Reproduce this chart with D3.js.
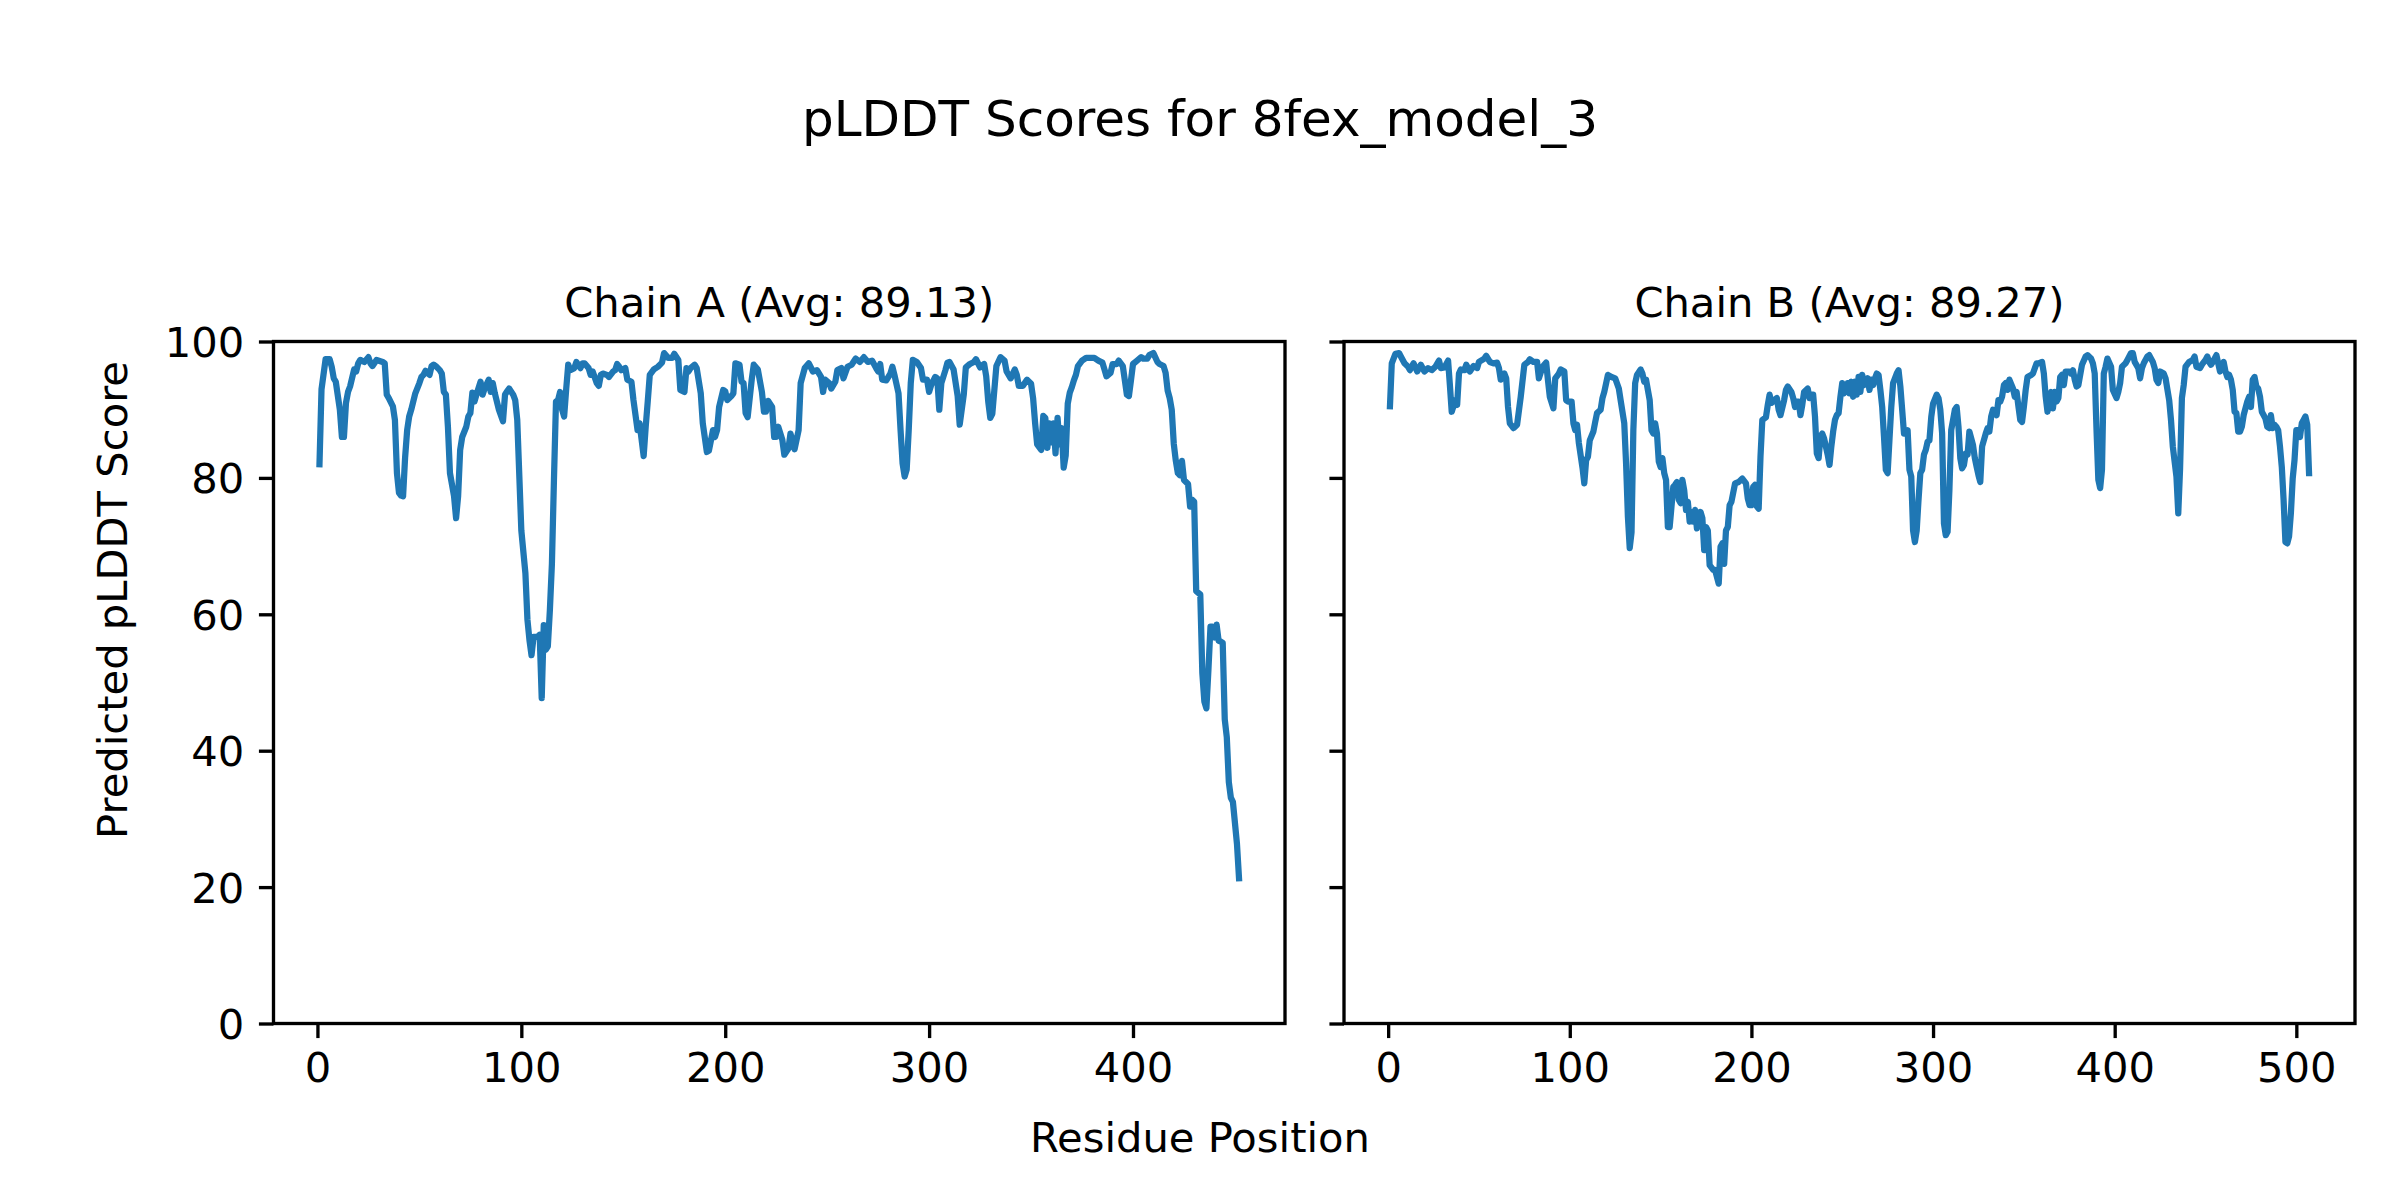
<!DOCTYPE html>
<html>
<head>
<meta charset="utf-8">
<script src="https://cdn.jsdelivr.net/npm/d3@7"></script>
<style>
  html, body { margin: 0; padding: 0; background: #ffffff; }
  svg { display: block; }
  text { font-family: "DejaVu Sans", sans-serif; fill: #000; }
</style>
</head>
<body>
<div id="chart"></div>
<script>
// ---------------- DATA ----------------
const figureTitle = "pLDDT Scores for 8fex_model_3";
const xLabel = "Residue Position";
const yLabel = "Predicted pLDDT Score";
const chainTitles = ["Chain A (Avg: 89.13)", "Chain B (Avg: 89.27)"];
const xTicksA = [0, 100, 200, 300, 400];
const xTicksB = [0, 100, 200, 300, 400, 500];
const yTicks = [0, 20, 40, 60, 80, 100];

const chainAPos = [1,2,4,6,7,8,9,11,12,13,14,15,16,18,19,20,21,23,25,26,27,29,32,33,34,35,37,38,39,40,41,42,43,44,45,46,48,50,51,52,53,55,56,57,58,60,61,62,63,64,65,67,68,69,70,71,73,74,75,76,77,78,80,81,82,84,85,86,87,89,91,92,93,94,96,97,98,100,102,103,104,105,106,108,109,110,111,112,113,114,115,116,117,118,119,120,121,122,123,124,126,127,129,130,131,133,134,135,137,138,139,140,142,143,145,146,147,
148,149,151,152,154,155,157,158,160,161,162,163,165,167,169,170,172,174,175,177,178,180,181,182,183,185,186,188,189,191,192,194,195,196,197,199,200,201,203,204,205,207,208,209,210,211,213,214,216,218,219,220,221,223,224,225,226,228,229,231,232,234,236,237,239,241,243,245,247,248,249,251,252,254,255,257,258,260,262,264,266,268,270,272,274,275,276,277,279,281,282,283,285,286,287,288,289,290,291,292,294,296,297,299,300,301,303,304,305,306,308,309,
310,312,314,315,317,318,320,322,323,325,327,328,329,330,331,333,335,337,338,340,342,343,344,346,348,350,351,352,353,355,356,357,358,359,360,361,362,363,364,365,366,367,368,369,370,371,372,373,375,377,379,381,383,385,386,387,389,390,392,393,395,396,397,398,399,400,402,404,405,407,408,410,412,413,415,416,417,418,419,420,421,422,423,424,425,426,427,428,429,430,431,433,434,435,436,437,438,439,440,441,442,443,444,445,446,447,448,449,451,452];
const chainAScore = [82,93,97.4,97.4,96.3,94.6,94.1,90,86,86,91,92.6,93.4,95.9,95.6,96.8,97.3,97,97.7,96.8,96.4,97.3,97,96.8,92.2,91.7,90.5,88.5,80.7,77.8,77.4,77.3,83,87,89,90,92.4,93.9,94.8,95.1,95.7,95.1,96.4,96.6,96.4,95.8,95.3,92.6,92.2,87.5,80.7,77.3,74.1,77.3,84.1,86,87.5,89,89.5,92.5,91.2,92.2,94.1,92.2,93.1,94.4,92.6,93.9,92.4,90,88.3,92.2,92.7,93.1,92.2,91.4,88.5,72.3,66,59.2,56.2,54,56.7,56.7,57,47.7,58.4,54.8,55.3,60.6,67.4,79.7,91.2,91.4,92.6,90,89,93,96.6,95.8,96.1,97,96.1,96.8,96.8,96.1,95.1,95.6,93.9,93.5,95.1,95.3,95.1,94.8,95.6,95.8,96.7,
96.3,95.8,96.1,94.4,94.1,91.4,87,88,83.2,87.5,91.2,95.1,95.9,96.3,96.9,98.3,97.6,97.6,98.2,97.3,92.9,92.6,96.1,95.6,96.1,96.6,96.1,92.4,88,83.8,84,87,86,87,90.4,92.9,92.7,91.4,92,92.4,96.8,96.6,94.1,93.9,89.5,88.9,94.4,96.6,95.9,92.6,89.7,89.7,91.3,90.4,86,86,87.5,85.6,83.4,84.3,86.5,84.2,87,93.9,96.1,96.8,95.6,95.8,94.8,92.6,94.4,93.9,93.1,94.1,95.8,96.1,94.6,96.3,96.6,97.5,97,97.7,97,97.2,96.1,95.6,96.7,94.4,94.3,95.3,96.3,95.1,92.4,87,82.1,80.2,81.2,87,93.9,97.3,97,96.1,94.4,94.4,92.6,93.6,94.8,94.6,90,93.9,95.8,96.9,
97,95.9,92,87.8,92.2,96.2,96.7,97,97.4,96.2,96.7,94.9,91.2,88.8,89.4,96.4,97.7,97.2,95.6,94.6,95.9,95.1,93.5,93.5,94.4,93.8,91.7,88,84.9,84.1,89.1,88.8,84.4,88,85.2,88,83.6,88.8,84.9,87.3,81.5,83.3,90.9,92.5,93.3,94.3,95.1,96.4,97.2,97.6,97.6,97.6,97.2,96.9,95.9,94.9,95.4,96.7,96.7,97.2,96.4,94.3,92.2,92,94.3,96.7,97.2,97.7,97.5,97.5,98,98.3,97,96.7,96.4,95.4,92.8,91.7,90,85,82.5,80.7,80.4,82.5,79.7,79.4,79.1,75.8,76.8,76.5,63.4,62.9,51.4,47.2,46.2,51.9,58.2,58.2,56.6,58.5,56.1,56,55.8,44.6,42,35.4,33.1,32.5,26.3,21.3];

const chainBPos = [1,2,4,6,7,9,11,12,14,16,18,20,22,24,26,28,29,31,33,34,35,37,38,39,40,42,43,45,47,49,50,53,54,56,58,60,61,62,64,65,66,67,69,71,73,75,77,78,80,82,83,85,87,88,89,91,92,94,95,97,98,99,101,102,103,104,105,107,108,109,110,111,113,114,115,117,118,119,121,123,125,127,128,130,131,132,133,134,135,136,137,139,140,141,142,143,144,145,146,147,148,149,150,151,152,153,154,155,156,157,158,159,160,161,162,163,164,165,166,167,168,169,170,171,172,173,174,175,176,177,179,180,182,183,184,185,186,187,188,189,191,193,195,197,198,199,200,201,202,203,204,205,206,208,209,210,211,213,214,215,216,218,219,220,222,223,224,225,226,227,228,229,231,232,233,234,235,236,237,238,239,240,242,243,244,245,246,247,248,249,250,251,252,253,254,255,256,257,258,259,260,261,262,264,265,266,267,268,269,270,271,272,273,274,275,276,277,278,280,281,282,283,284,285,286,287,288,289,290,291,292,293,294,295,296,297,298,299,300,302,303,304,305,306,307,308,309,310,311,312,313,314,315,316,317,318,319,320,321,322,323,324,325,326,327,329,330,331,332,333,335,336,337,338,339,340,341,342,344,345,346,347,348,349,350,351,352,354,355,357,358,360,361,362,363,365,366,367,368,369,370,371,372,373,375,376,377,378,379,380,382,384,385,387,388,389,390,391,392,393,394,395,396,398,399,401,402,403,404,406,407,409,410,411,413,414,415,416,418,419,421,422,423,424,425,427,428,430,431,432,434,435,436,437,438,439,441,443,444,445,447,448,450,451,452,453,454,456,457,458,459,460,461,462,463,464,465,466,467,468,469,470,471,473,474,475,476,477,478,479,480,481,483,484,485,486,487,488,489,490,491,492,493,494,495,496,497,498,499,500,501,502,503,504,505,506,507];
const chainBScore = [90.5,96.8,98.2,98.3,97.8,96.8,96.3,95.8,96.8,95.6,96.6,95.6,96.1,95.8,96.3,97.2,96.1,96.2,97.2,93.6,89.7,91.4,90.7,95.3,95.9,95.8,96.6,95.6,96.4,96.1,97,97.5,97.9,97,96.8,96.9,96.1,94.4,95.3,94.6,90.4,88,87.3,87.8,91.9,96.6,97,97.4,97,97,94.6,96.3,96.9,94.3,91.9,90.2,94.6,95.3,95.9,95.6,91.4,91.2,91.2,88,87,87.8,85.1,81.5,79.2,82.6,83.1,85.5,86.8,88.2,89.5,90,91.7,92.6,95.1,94.8,94.6,93.1,91.4,88,82.1,74.3,69.7,72,87,93.9,95.1,95.9,95.3,94.1,94.4,92.9,91.4,87,86.5,88,86.5,82.4,81.6,82.9,80.7,79.7,72.8,72.8,75.8,78.7,79,79.4,76.8,76.3,79.7,78.2,75.3,76.5,73.6,75,73.6,75.3,72.6,73.8,75,74.1,69.4,72.8,72.3,67.2,66.5,66.5,64.5,69.9,70.4,67.4,72.3,72.8,76,76.5,79.2,79.4,79.9,79.2,77,76,76,78.7,79,75.8,75.5,83.1,88.5,88.9,90.7,92.2,91,91.5,91.7,90,89.2,91.4,92.9,93.4,92.6,91.7,90.4,91.2,91.2,89.2,90.7,92.6,93.1,91.7,92.2,92.2,89,83.6,82.9,86,86.5,85.8,83.4,81.9,84.6,86.8,88.5,89.2,89.5,91.9,93.9,92.4,92.9,93.9,92.4,94.1,91.9,94.1,92.2,94.8,92.6,95.1,93.6,94.6,92.9,94.4,93.6,94.6,95.3,95.1,92.9,90.4,86,81.2,80.7,85.6,90.4,93.9,95.3,95.8,93.4,90,86.5,86.5,87,81.2,80.2,72.3,70.6,72.3,76.8,80.7,81.2,83.4,84.1,85.3,85.5,88.9,90.9,92.2,91.7,90,86.5,73.3,71.6,72.1,78.2,87,88.5,90,90.4,87.5,82.9,81.4,81.9,83.6,83.4,86.8,85.8,84.8,82.9,81.6,80.4,79.4,84.6,86.5,87.3,86.8,89,90,89.2,91.4,91.2,91.9,93.6,93.9,92.9,94.4,93.1,91.9,92.6,90.5,88.5,88.2,90.4,92.9,94.8,95.1,95.3,96.8,96.8,97,95.3,91.9,89.7,92.6,90.2,92.6,91.2,91.7,94.8,95.1,93.6,95.6,95.6,95.3,95.8,94.4,93.4,93.6,96.6,97.8,98,97.5,96.8,95.3,87,79.7,78.5,81.2,95.3,96.3,97.5,96.3,92.9,91.7,92.6,93.9,96.3,96.8,97.3,98.3,98.3,97,96.1,94.6,96.1,96.8,97.8,98,97,96.1,94.4,93.9,95.6,95.3,94.6,91.4,88.5,84.6,80.2,74.8,81.4,91.7,93.6,96.3,97,97.3,97.8,96.3,96.1,96.6,97.3,97.8,97,96.6,97,98,96.8,95.6,96.3,97,95.6,94.8,95.1,94.4,92.9,89.7,89.5,86.8,86.8,87.5,89.2,91.2,91.9,90.4,94.4,94.8,93.4,93.1,91.9,89.7,88.7,87.5,87.3,89.2,87.3,87.8,87.5,87,84.6,81.6,76.7,70.6,70.4,71.4,74.8,79.9,82.6,87,87,86,88,88.5,89,87.8,80.7];

// ---------------- LAYOUT ----------------
const W = 2400, H = 1200;
const PT = 300 / 72;             // figure rendered at 300 dpi
const plotTop = 341.5, plotBottom = 1023.5;
const panels = [
  { left: 273.5, right: 1285, pos: chainAPos, score: chainAScore, title: chainTitles[0], xticks: xTicksA, showY: true },
  { left: 1344,  right: 2355, pos: chainBPos, score: chainBScore, title: chainTitles[1], xticks: xTicksB, showY: false }
];
const lineColor = "#1f77b4";
const tickLen = 3.5 * PT, tickPad = 3.5 * PT, spineW = 0.8 * PT;
const fontSmall = 10 * PT, fontLarge = 12 * PT;

const svg = d3.select("#chart").append("svg")
  .attr("width", W).attr("height", H)
  .attr("viewBox", `0 0 ${W} ${H}`);
svg.append("rect").attr("width", W).attr("height", H).attr("fill", "#ffffff");

const y = d3.scaleLinear().domain([0, 100]).range([plotBottom, plotTop]);

panels.forEach(p => {
  const data = p.pos.map((r, i) => ({ r, v: p.score[i] }));
  const [mn, mx] = d3.extent(p.pos);
  const pad = 0.05 * (mx - mn);
  const x = d3.scaleLinear().domain([mn - pad, mx + pad]).range([p.left, p.right]);
  const g = svg.append("g");

  // line
  g.append("path")
    .datum(data)
    .attr("fill", "none")
    .attr("stroke", lineColor)
    .attr("stroke-width", 1.5 * PT)
    .attr("stroke-linejoin", "round")
    .attr("stroke-linecap", "square")
    .attr("d", d3.line().x(d => x(d.r)).y(d => y(d.v)));

  // x axis
  const xa = g.append("g")
    .attr("transform", `translate(0,${plotBottom})`)
    .call(d3.axisBottom(x).tickValues(p.xticks).tickFormat(d3.format("d"))
      .tickSize(tickLen).tickSizeOuter(0).tickPadding(tickPad));
  xa.select(".domain").remove();
  xa.selectAll(".tick line").attr("stroke", "#000").attr("stroke-width", spineW);
  xa.selectAll(".tick text").attr("font-size", fontSmall)
    .attr("font-family", "DejaVu Sans").attr("fill", "#000");

  // y axis
  const ya = g.append("g")
    .attr("transform", `translate(${p.left},0)`)
    .call(d3.axisLeft(y).tickValues(yTicks)
      .tickFormat(p.showY ? d3.format("d") : () => "")
      .tickSize(tickLen).tickSizeOuter(0).tickPadding(tickPad));
  ya.select(".domain").remove();
  ya.selectAll(".tick line").attr("stroke", "#000").attr("stroke-width", spineW);
  ya.selectAll(".tick text").attr("font-size", fontSmall)
    .attr("font-family", "DejaVu Sans").attr("fill", "#000").attr("dy", "0.36em");

  // spines
  g.append("rect")
    .attr("x", p.left).attr("y", plotTop)
    .attr("width", p.right - p.left).attr("height", plotBottom - plotTop)
    .attr("fill", "none").attr("stroke", "#000").attr("stroke-width", spineW)
    .attr("stroke-linejoin", "miter");

  // panel title
  g.append("text")
    .attr("x", (p.left + p.right) / 2).attr("y", plotTop - 6 * PT)
    .attr("text-anchor", "middle").attr("font-size", fontSmall)
    .text(p.title);
});

// figure title and shared labels
svg.append("text").attr("x", W / 2).attr("y", 136)
  .attr("text-anchor", "middle").attr("font-size", fontLarge).text(figureTitle);
svg.append("text").attr("x", W / 2).attr("y", 1152)
  .attr("text-anchor", "middle").attr("font-size", fontSmall).text(xLabel);
svg.append("text").attr("transform", `translate(127,600) rotate(-90)`)
  .attr("text-anchor", "middle").attr("font-size", fontSmall).text(yLabel);
</script>
</body>
</html>
